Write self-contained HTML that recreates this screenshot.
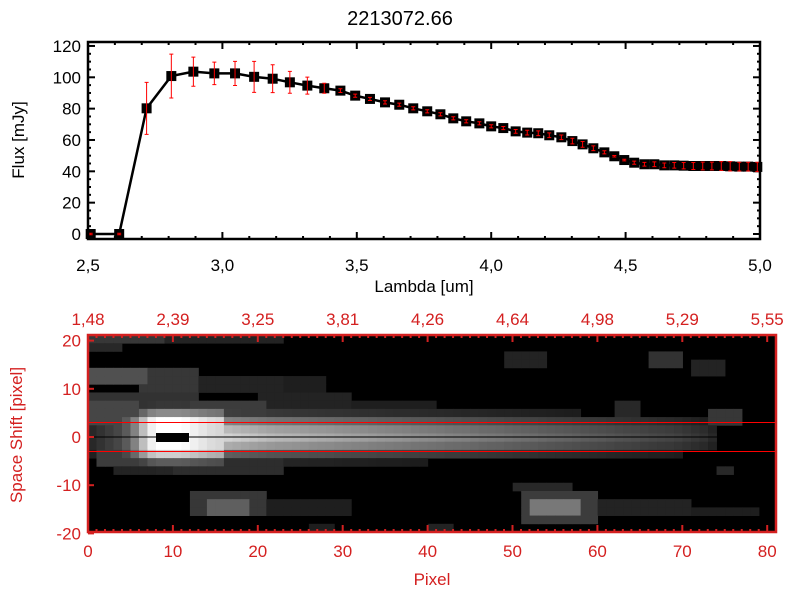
<!DOCTYPE html>
<html><head><meta charset="utf-8"><style>
html,body{margin:0;padding:0;background:#fff;}
svg{display:block;font-family:"Liberation Sans",sans-serif;}
</style></head><body>
<svg id="chart" width="800" height="600" viewBox="0 0 800 600">
<rect width="800" height="600" fill="#fff"/>
<text x="400" y="25" font-size="20" text-anchor="middle">2213072.66</text>
<g id="topplot"></g>
<g id="botplot"></g>
</svg>
<script>
// ---- spectrum data ----
const lambdas = [2.51,2.616,2.718,2.810,2.892,2.970,3.047,3.118,3.187,3.251,3.316,3.379,3.439,3.494,3.549,3.605,3.658,3.710,3.762,3.811,3.859,3.907,3.956,4.000,4.045,4.091,4.134,4.175,4.216,4.261,4.302,4.340,4.380,4.421,4.458,4.495,4.532,4.570,4.607,4.644,4.681,4.716,4.752,4.787,4.821,4.856,4.889,4.923,4.956,4.990];
const fluxes = [0,0,80.2,100.8,103.6,102.5,102.5,100.3,99.1,96.8,94.7,93,91.5,88.3,86.2,84,82.5,80.2,78.3,76.4,73.8,71.9,70.6,68.7,67.6,65.5,64.7,64.3,63,61.7,59.3,57.2,54.7,52.1,49.6,47.2,45.5,44.5,44.5,43.8,43.8,43.6,43.4,43.4,43.4,43.4,43.2,43,43,42.8];
const errors = [0.5,0.5,16.6,14,9.3,7.2,7.7,9.9,8.9,7,5.4,3.2,1.2,1,1,1,1,1,1,1,1,1,1,1,1,1.2,1.5,1.5,1.5,1.5,1.8,1.8,1.5,1,0.5,0.5,1,1.2,1.5,1.5,1.8,2,2.2,2.5,2.5,2.8,3,2.8,2.8,3];
const xTicks = [2.5,3.0,3.5,4.0,4.5,5.0];
const xTickLabels = ["2,5","3,0","3,5","4,0","4,5","5,0"];
const yTicks = [0,20,40,60,80,100,120];

// ---- image data ----
const pixTicks = [0,10,20,30,40,50,60,70,80];
const lamTopLabels = ["1,48","2,39","3,25","3,81","4,26","4,64","4,98","5,29","5,55"];
const shiftTicks = [20,10,0,-10,-20];
const traceColumn = [40,50,60,70,90,130,190,240,255,255,255,250,240,230,220,215,210,205,200,195,190,185,182,180,178,175,172,170,168,165,162,160,158,155,152,150,148,145,142,140,138,135,132,130,128,125,122,120,118,115,112,110,108,105,102,100,98,95,92,90,88,85,82,80,78,75,72,70,68,65,60,55,50,40,0,0,0,0,0,0,0];
const rowProfile = [0,0,0,0,0,0,0,0.05,0.12,0.3,0.62,0.88,1,0.82,0.45,0.2,0.08,0,0,0,0,0,0,0];
// blobs: [col0,col1,row0,row1,gray]
const blobs = [[0,8,0,0,55],[8,22,0,0,35],[0,3,1,1,40],[0,6,4,5,80],[6,12,4,6,55],[12,22,5,6,35],[22,27,5,6,30],[0,12,7,9,50],[12,20,8,9,60],[20,30,7,9,35],[30,40,8,9,30],[0,5,8,10,70],[1,10,14,15,60],[10,22,14,16,45],[22,30,14,14,30],[3,9,16,16,35],[12,20,19,21,55],[14,18,20,21,95],[20,30,20,21,30],[51,59,19,22,60],[52,57,20,21,120],[50,56,18,18,40],[59,70,20,21,35],[70,78,21,21,30],[49,53,2,3,35],[66,69,2,3,50],[71,74,3,4,35],[62,64,8,9,40],[73,76,9,10,55],[74,75,16,16,40],[40,42,23,23,35],[26,28,23,23,30]];

const NS="http://www.w3.org/2000/svg";
function mk(tag, attrs, parent){const e=document.createElementNS(NS,tag);for(const k in attrs)e.setAttribute(k,attrs[k]);parent.appendChild(e);return e;}

// ---- top plot ----
const topG = document.getElementById('topplot');
const L=88,R=760,T=42,B=239;
const xS = v => L + (v-2.5)/2.5*(R-L);
const yS = v => 234 - v*1.567;
for(let i=0; i<=25; i++){
  const v = 2.5 + i*0.1;
  const len = (i%5===0)?7:3;
  const t1 = mk('line',{x1:xS(v),x2:xS(v),y1:B,y2:B-len,stroke:'#000','stroke-width':2},topG);
  
  
  const t2 = mk('line',{x1:xS(v),x2:xS(v),y1:T,y2:T+len,stroke:'#000','stroke-width':2},topG);
  
  
}
xTicks.forEach((v,i)=>{
  const t = mk('text',{x:xS(v),y:271,'font-size':17,'text-anchor':'middle'},topG);
  t.textContent = xTickLabels[i];
  
  
});
for(let v=0; v<=120; v+=5){
  const len = v%20===0?7:3;
  const t1 = mk('line',{x1:L,x2:L+len,y1:yS(v),y2:yS(v),stroke:'#000','stroke-width':2},topG);
  
  
  const t2 = mk('line',{x1:R,x2:R-len,y1:yS(v),y2:yS(v),stroke:'#000','stroke-width':2},topG);
  
  
}
yTicks.forEach(v=>{
  const t = mk('text',{x:81,y:yS(v)+6,'font-size':17,'text-anchor':'end'},topG);
  t.textContent = v;
  
  
});
const xt = mk('text',{x:424,y:292,'font-size':17,'text-anchor':'middle'},topG);
xt.textContent='Lambda [um]';


const yt = mk('text',{x:0,y:0,'font-size':17,'text-anchor':'middle',transform:'translate(24,140) rotate(-90)'},topG);
yt.textContent='Flux [mJy]';


const pts = lambdas.map((l,i)=>xS(l)+','+yS(fluxes[i])).join(' ');
const pl = mk('polyline',{points:pts,fill:'none',stroke:'#000','stroke-width':2.5},topG);


lambdas.forEach((l,i)=>{
  const cx=xS(l), cy=yS(fluxes[i]);
  const m = mk('rect',{x:cx-5,y:cy-5,width:10,height:10,fill:'#000'},topG);
  
  
  const e = errors[i]*1.567;
  const g = mk('path',{d:`M${cx},${cy-e}V${cy+e}M${cx-2},${cy-e}H${cx+2}M${cx-2},${cy+e}H${cx+2}`,stroke:'#f00','stroke-width':1,fill:'none'},topG);
  
  
});
const fr = mk('rect',{x:L,y:T,width:R-L,height:B-T,fill:'none',stroke:'#000','stroke-width':2.5},topG);



// ---- bottom image ----
const botG = document.getElementById('botplot');
const IL=88, IR=776, IT=335, IB=532;
const pxS = p => 88 + p*8.49;
const syS = s => 437 - s*4.82;
const ncol=81, nrow=24, cw=(IR-IL)/ncol, rh=(IB-IT)/nrow;
const grid=[];
for(let r=0;r<nrow;r++){grid.push(new Array(ncol).fill(0));}
blobs.forEach(b=>{for(let r=b[2];r<=b[3];r++)for(let c=b[0];c<=b[1];c++)grid[r][c]=Math.max(grid[r][c],b[4]);});
for(let r=0;r<nrow;r++)for(let c=0;c<ncol;c++){
  let v = traceColumn[c]*rowProfile[r];
  if(c<16 && rowProfile[r]>0) v = Math.max(v, traceColumn[c]*Math.min(1,rowProfile[r]*1.8));
  if(v<28) v=0;
  grid[r][c]=Math.max(grid[r][c],Math.round(v));
}
mk('rect',{x:IL,y:IT,width:IR-IL,height:IB-IT,fill:'#000'},botG);
for(let r=0;r<nrow;r++)for(let c=0;c<ncol;c++){
  const g=grid[r][c]; if(!g) continue;
  const cell = mk('rect',{x:(IL+c*cw).toFixed(2),y:(IT+r*rh).toFixed(2),width:(cw+0.4).toFixed(2),height:(rh+0.4).toFixed(2),fill:`rgb(${g},${g},${g})`},botG);
  
  
}
const blk = mk('rect',{x:156,y:433,width:33,height:9,fill:'#000'},botG);


const cl = mk('line',{x1:IL,x2:IR,y1:437,y2:437,stroke:'#000','stroke-width':1},botG);


[3,-3].forEach(s=>{
  const l = mk('line',{x1:IL,x2:IR,y1:syS(s),y2:syS(s),stroke:'#f00','stroke-width':1},botG);
  
  
});
const red='#d42020';
for(let p=0;p<=80;p++){
  const len = p%10===0?7:3;
  const a = mk('line',{x1:pxS(p),x2:pxS(p),y1:IB,y2:IB-len,stroke:red,'stroke-width':2},botG);
  
  
  const b = mk('line',{x1:pxS(p),x2:pxS(p),y1:IT,y2:IT+len,stroke:red,'stroke-width':2},botG);
  
  
}
pixTicks.forEach((p,i)=>{
  const t = mk('text',{x:pxS(p),y:557,'font-size':17,'text-anchor':'middle',fill:red},botG);
  t.textContent=p;
  
  
  const t2 = mk('text',{x:pxS(p),y:325,'font-size':17,'text-anchor':'middle',fill:red},botG);
  t2.textContent=lamTopLabels[i];
  
  
});
shiftTicks.forEach(s=>{
  const a = mk('line',{x1:IL,x2:IL+6,y1:syS(s),y2:syS(s),stroke:red,'stroke-width':2},botG);
  
  
  const t = mk('text',{x:81,y:syS(s)+6,'font-size':17,'text-anchor':'end',fill:red},botG);
  t.textContent=s;
  
  
});
const bf = mk('rect',{x:IL,y:IT,width:IR-IL,height:IB-IT,fill:'none',stroke:red,'stroke-width':2.5},botG);


const px = mk('text',{x:432,y:585,'font-size':17,'text-anchor':'middle',fill:red},botG);
px.textContent='Pixel';


const sy = mk('text',{x:0,y:0,'font-size':17,'text-anchor':'middle',fill:red,transform:'translate(22,435) rotate(-90)'},botG);
sy.textContent='Space Shift [pixel]';


</script>
</body></html>
